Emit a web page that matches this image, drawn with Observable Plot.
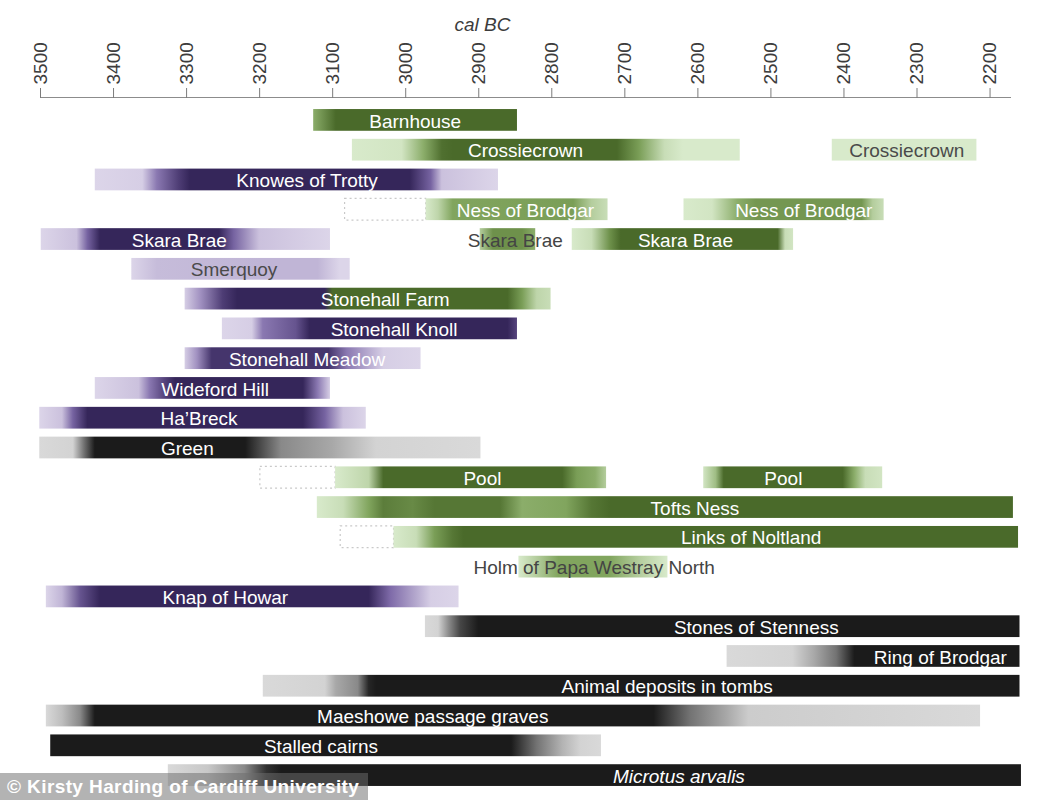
<!DOCTYPE html>
<html><head><meta charset="utf-8">
<script src="https://cdn.jsdelivr.net/npm/d3@7"></script>
<script src="https://cdn.jsdelivr.net/npm/@observablehq/plot@0.6"></script>
<style>
body{margin:0;background:#fff;font-family:"Liberation Sans",Arial,sans-serif;}
#wrap{position:relative;width:1059px;height:800px;overflow:hidden;}
#credit{position:absolute;left:0;bottom:0;width:368px;height:27px;background:rgba(110,110,110,0.52);color:#fff;font-size:19px;letter-spacing:0.4px;font-weight:bold;line-height:27px;padding-left:7px;box-sizing:border-box;white-space:nowrap;}
</style></head><body>
<div id="wrap"><div id="chart"></div><div id="credit">© Kirsty Harding of Cardiff University</div></div>
<script>
// ---------- data ----------
const rows = ["Barnhouse","Crossiecrown","Knowes of Trotty","Ness of Brodgar","Skara Brae","Smerquoy",
  "Stonehall Farm","Stonehall Knoll","Stonehall Meadow","Wideford Hill","Ha’Breck","Green","Pool",
  "Tofts Ness","Links of Noltland","Holm of Papa Westray North","Knap of Howar","Stones of Stenness",
  "Ring of Brodgar","Animal deposits in tombs","Maeshowe passage graves","Stalled cairns","Microtus arvalis"];

const tickYears = [3500,3400,3300,3200,3100,3000,2900,2800,2700,2600,2500,2400,2300,2200];
const axisTitle = "cal BC";
const axisTitleAt = 2895;          // year above which the axis title sits
const axisDomain = [3500, 2172];   // cal BC, older on the left

// palette: [light, mid, dark]
const palettes = {
  p: ["#dcd5e9", "#7d69a8", "#35265a"],   // purple
  g: ["#d8eacb", "#7fa35b", "#4a6a2a"],   // green
  k: ["#d9d9d9", "#7c7c7c", "#1b1b1b"]    // black / grey
};

// each bar: row, from (older, cal BC), to (younger), label, year of the label,
// stops = [year, palette, intensity 0..1] describing the probability shading
const bars = [
  {row:"Barnhouse", from:3126, to:2847, label:"Barnhouse", at:2987,
   stops:[[3126,"g",.5],[3095,"g",1],[2847,"g",1]]},
  {row:"Crossiecrown", from:3073, to:2542, label:"Crossiecrown", at:2836,
   stops:[[3073,"g",.12],[3005,"g",.15],[2975,"g",.5],[2950,"g",.95],[2935,"g",1],[2710,"g",1],[2680,"g",.6],[2645,"g",.2],[2620,"g",.12],[2542,"g",.12]]},
  {row:"Crossiecrown", from:2416, to:2218, label:"Crossiecrown", at:2314,
   stops:[[2416,"g",.12],[2218,"g",.12]]},
  {row:"Knowes of Trotty", from:3425, to:2873, label:"Knowes of Trotty", at:3135,
   stops:[[3425,"p",.1],[3360,"p",.15],[3340,"p",.5],[3310,"p",.85],[3295,"p",1],[2994,"p",1],[2965,"p",.6],[2950,"p",.2],[2873,"p",.12]]},
  {row:"Ness of Brodgar", from:2972, to:2723, label:"Ness of Brodgar", at:2836,
   stops:[[2972,"g",.1],[2955,"g",.25],[2935,"g",.55],[2770,"g",.6],[2745,"g",.3],[2723,"g",.2]]},
  {row:"Ness of Brodgar", from:2619, to:2345, label:"Ness of Brodgar", at:2455,
   stops:[[2619,"g",.1],[2580,"g",.15],[2545,"g",.5],[2520,"g",.65],[2375,"g",.65],[2360,"g",.3],[2345,"g",.2]]},
  {row:"Skara Brae", from:3499, to:3103, label:"Skara Brae", at:3310,
   stops:[[3499,"p",.12],[3450,"p",.2],[3435,"p",.6],[3418,"p",1],[3255,"p",1],[3235,"p",.6],[3200,"p",.2],[3103,"p",.12]]},
  {row:"Skara Brae", from:2898, to:2822, label:"Skara Brae", at:2850,
   stops:[[2898,"g",.3],[2880,"g",.7],[2840,"g",.7],[2822,"g",.5]]},
  {row:"Skara Brae", from:2772, to:2469, label:"Skara Brae", at:2617,
   stops:[[2772,"g",.12],[2745,"g",.2],[2720,"g",.7],[2705,"g",1],[2490,"g",1],[2480,"g",.2],[2469,"g",.15]]},
  {row:"Smerquoy", from:3375, to:3076, label:"Smerquoy", at:3235,
   stops:[[3375,"p",.12],[3340,"p",.22],[3200,"p",.25],[3120,"p",.25],[3090,"p",.12],[3076,"p",.12]]},
  {row:"Stonehall Farm", from:3302, to:2801, label:"Stonehall Farm", at:3028,
   stops:[[3302,"p",.15],[3280,"p",.4],[3250,"p",.85],[3230,"p",1],[3110,"p",1],[3100,"g",1],[2860,"g",1],[2840,"g",.6],[2820,"g",.25],[2801,"g",.2]]},
  {row:"Stonehall Knoll", from:3251, to:2847, label:"Stonehall Knoll", at:3016,
   stops:[[3251,"p",.12],[3210,"p",.15],[3195,"p",.5],[3150,"p",.7],[3131,"p",1],[2860,"p",1],[2847,"p",.8]]},
  {row:"Stonehall Meadow", from:3302, to:2979, label:"Stonehall Meadow", at:3135,
   stops:[[3302,"p",.15],[3285,"p",.4],[3265,"p",.9],[3105,"p",.9],[3080,"p",.5],[3030,"p",.15],[2979,"p",.12]]},
  {row:"Wideford Hill", from:3425, to:3103, label:"Wideford Hill", at:3261,
   stops:[[3425,"p",.12],[3365,"p",.2],[3350,"p",.5],[3330,"p",.8],[3315,"p",1],[3140,"p",1],[3120,"p",.5],[3103,"p",.15]]},
  {row:"Ha’Breck", from:3501, to:3054, label:"Ha’Breck", at:3283,
   stops:[[3501,"p",.12],[3470,"p",.2],[3455,"p",.6],[3435,"p",1],[3140,"p",1],[3110,"p",.6],[3085,"p",.2],[3054,"p",.12]]},
  {row:"Green", from:3501, to:2897, label:"Green", at:3299,
   stops:[[3501,"k",.1],[3455,"k",.15],[3440,"k",.6],[3425,"k",1],[3219,"k",1],[3170,"k",.5],[3100,"k",.35],[3040,"k",.15],[2897,"k",.12]]},
  {row:"Pool", from:3096, to:2725, label:"Pool", at:2895,
   stops:[[3096,"g",.12],[3050,"g",.25],[3030,"g",1],[2785,"g",1],[2765,"g",.6],[2740,"g",.5],[2725,"g",.3]]},
  {row:"Pool", from:2592, to:2347, label:"Pool", at:2483,
   stops:[[2592,"g",.15],[2575,"g",.4],[2564,"g",1],[2401,"g",1],[2385,"g",.5],[2370,"g",.2],[2347,"g",.15]]},
  {row:"Tofts Ness", from:3121, to:2168, label:"Tofts Ness", at:2604,
   stops:[[3121,"g",.12],[3085,"g",.2],[3050,"g",.55],[3030,"g",.85],[2990,"g",.75],[2960,"g",.9],[2870,"g",.9],[2840,"g",.5],[2780,"g",.55],[2745,"g",.9],[2720,"g",1],[2168,"g",1]]},
  {row:"Links of Noltland", from:3016, to:2161, label:"Links of Noltland", at:2527,
   stops:[[3016,"g",.12],[2985,"g",.2],[2960,"g",.6],[2935,"g",.9],[2920,"g",1],[2161,"g",1]]},
  {row:"Holm of Papa Westray North", from:2845, to:2641, label:"Holm of Papa Westray North", at:2742,
   stops:[[2845,"g",0],[2820,"g",.3],[2790,"g",.55],[2720,"g",.55],[2680,"g",.3],[2641,"g",0]]},
  {row:"Knap of Howar", from:3492, to:2927, label:"Knap of Howar", at:3247,
   stops:[[3492,"p",.12],[3470,"p",.25],[3445,"p",.7],[3418,"p",1],[3050,"p",1],[3020,"p",.55],[2985,"p",.3],[2965,"p",.15],[2927,"p",.12]]},
  {row:"Stones of Stenness", from:2973, to:2159, label:"Stones of Stenness", at:2520,
   stops:[[2973,"k",.12],[2955,"k",.15],[2940,"k",.5],[2925,"k",.8],[2900,"k",1],[2159,"k",1]]},
  {row:"Ring of Brodgar", from:2560, to:2159, label:"Ring of Brodgar", at:2268,
   stops:[[2560,"k",.12],[2470,"k",.15],[2440,"k",.35],[2410,"k",.6],[2385,"k",1],[2159,"k",1]]},
  {row:"Animal deposits in tombs", from:3195, to:2159, label:"Animal deposits in tombs", at:2642,
   stops:[[3195,"k",.12],[3110,"k",.15],[3095,"k",.35],[3065,"k",.5],[3050,"k",.95],[3040,"k",1],[2159,"k",1]]},
  {row:"Maeshowe passage graves", from:3492, to:2213, label:"Maeshowe passage graves", at:2963,
   stops:[[3492,"k",.12],[3470,"k",.25],[3445,"k",.5],[3425,"k",1],[2660,"k",1],[2610,"k",.6],[2560,"k",.35],[2530,"k",.18],[2213,"k",.12]]},
  {row:"Stalled cairns", from:3486, to:2732, label:"Stalled cairns", at:3116,
   stops:[[3486,"k",1],[2855,"k",1],[2820,"k",.6],[2785,"k",.3],[2760,"k",.15],[2732,"k",.12]]},
  {row:"Microtus arvalis", from:3325, to:2157, label:"Microtus arvalis", at:2626,
   stops:[[3325,"k",.12],[3270,"k",.2],[3220,"k",.5],[3190,"k",.9],[3170,"k",1],[2157,"k",1]]}
];

// dotted outlines (possible earlier phases)
const dotted = [
  {row:"Ness of Brodgar", from:3083, to:2972},
  {row:"Pool", from:3199, to:3096},
  {row:"Links of Noltland", from:3089, to:3016}
];

const italicLabels = ["Microtus arvalis"];   // species name

// ---------- helpers ----------
const ramp = Object.fromEntries(Object.entries(palettes).map(([k, v]) => [k, d3.piecewise(d3.interpolateRgb, v)]));
const tone = (pal, lv) => ramp[pal](Math.max(0, Math.min(1, (lv - 0.12) / 0.88)));
const levelAt = (b, yr) => {
  const s = b.stops;
  for (let i = 1; i < s.length; i++) {
    if (yr >= s[i][0]) {
      const t = (s[i-1][0] - yr) / (s[i-1][0] - s[i][0] || 1);
      return s[i-1][2] + (s[i][2] - s[i-1][2]) * t;
    }
  }
  return s[s.length-1][2];
};
const W = 1059, H = 800, mL = 40, mR = 49, FS = 19;
const pxPerYear = (W - mL - mR) / (axisDomain[0] - axisDomain[1]);
const ink = b => {
  const textPx = b.label.length * FS * 0.52;
  const barPx = (b.from - b.to) * pxPerYear;
  if (textPx > barPx - 4) return "#444";
  return levelAt(b, b.at) >= 0.4 ? "#ffffff" : "#4a4a4a";
};
const gid = i => `seg-grad-${i}`;
bars.forEach((b, i) => { b.grad = `url(#${gid(i)})`; b.ink = ink(b); });

const plain = bars.filter(b => !italicLabels.includes(b.label));
const italic = bars.filter(b => italicLabels.includes(b.label));

const svg = Plot.plot({
  width: W, height: H,
  marginTop: 97, marginLeft: mL, marginRight: mR, marginBottom: 6,
  style: {fontFamily: "'Liberation Sans', Arial, sans-serif", background: "#fff", overflow: "visible"},
  x: {domain: axisDomain},
  y: {domain: rows, axis: null, padding: 0.27, insetTop: 4, round: false},
  color: {type: "identity"},
  marks: [
    Plot.frame({anchor: "top", stroke: "#8c8c8c"}),
    Plot.axisX(tickYears, {anchor: "top", tickRotate: -90, tickSize: 10, tickPadding: 3,
      fontSize: FS, fill: "#3c3c3c", stroke: "#7c7c7c", label: null, tickFormat: d => String(d)}),
    Plot.text([axisTitle], {x: [axisTitleAt], frameAnchor: "top", dy: -73, text: d => d,
      fontSize: FS, fontStyle: "italic", fill: "#3c3c3c", lineAnchor: "middle"}),
    Plot.barX(dotted, {x1: "from", x2: "to", y: "row", fill: "none", stroke: "#c9c9c9",
      strokeDasharray: "2,3", strokeWidth: 1.2}),
    Plot.barX(bars, {x1: "from", x2: "to", y: "row", fill: "grad"}),
    Plot.text(plain, {x: "at", y: "row", text: "label", fill: "ink", fontSize: FS, dy: 1}),
    Plot.text(italic, {x: "at", y: "row", text: "label", fill: "ink", fontSize: FS, dy: 1, fontStyle: "italic"})
  ]
});

const defs = d3.select(svg).insert("defs", ":first-child");
bars.forEach((b, i) => {
  const g = defs.append("linearGradient").attr("id", gid(i))
    .attr("x1", 0).attr("x2", 1).attr("y1", 0).attr("y2", 0);
  b.stops.forEach(([yr, pal, lv]) => {
    g.append("stop").attr("offset", (b.from - yr) / (b.from - b.to)).attr("stop-color", tone(pal, lv));
  });
});

document.getElementById("chart").appendChild(svg);
</script>
</body></html>
